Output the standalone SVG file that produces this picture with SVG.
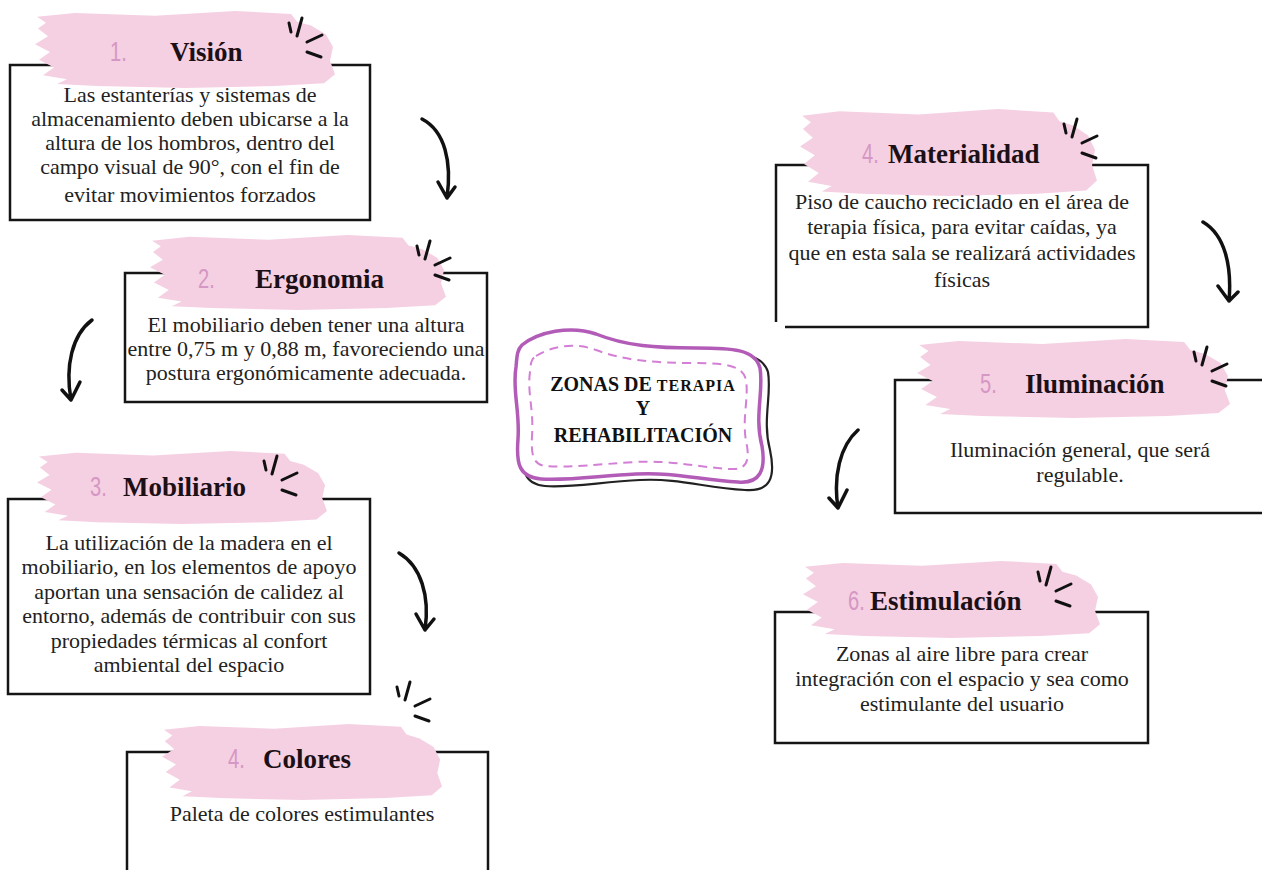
<svg xmlns="http://www.w3.org/2000/svg" xmlns:xlink="http://www.w3.org/1999/xlink" width="1262" height="870" viewBox="0 0 1262 870">
<style>
.frame{fill:none;stroke:#151515;stroke-width:2.5}
.brush{fill:#f5d0e2}
.num{font-family:"Liberation Sans",Arial,sans-serif;font-size:28px;fill:#d597c3}
.ttl{font-family:"Liberation Serif","Times New Roman",serif;font-size:27px;font-weight:bold;fill:#1c1016}
.body{font-family:"Liberation Serif","Times New Roman",serif;font-size:22px;fill:#222;text-anchor:middle}
.spark{fill:none;stroke:#111;stroke-width:3;stroke-linecap:round}
.arrow{fill:none;stroke:#111;stroke-width:3.5;stroke-linecap:round;stroke-linejoin:round}
.ctr{font-family:"Liberation Serif","Times New Roman",serif;font-weight:bold;fill:#111;text-anchor:middle}
</style>
<defs>
<symbol id="brush" viewBox="0 0 300 80" preserveAspectRatio="none">
<path class="brush" d="M2,7 L40,3 L120,6 L200,1 L256,4 L262,12 L276,16 L291,25 L298,38 L295,52 L300,66 L289,75 L240,78 L150,80 L62,78 L22,76 L32,71 L8,67 L19,59 L4,51 L15,43 L0,35 L13,27 L3,19 L11,13 Z"/>
</symbol>
<symbol id="spark" viewBox="0 0 36 42" overflow="visible">
<path class="spark" d="M1,6 L3,15 M14,1 L9,19 M19,25 L34,18 M19,35 L33,40"/>
</symbol>
</defs>
<rect width="1262" height="870" fill="#ffffff"/>

<g id="connectors">
<path class="arrow" d="M422,119 C445,131 452,162 447,198 M438,182 L447,198 L455,187"/>
<path class="arrow" d="M92,320 C72,335 65,366 71,400 M62,390 L71,400 L80,382"/>
<path class="arrow" d="M399,553 C421,566 430,596 425,630 M416,614 L425,630 L434,619"/>
<path class="arrow" d="M1203,222 C1225,235 1232,266 1229,301 M1218,286 L1229,301 L1238,292"/>
<path class="arrow" d="M858,430 C840,446 833,476 838,508 M829,498 L838,508 L847,490"/>
</g>

<g id="center">
<path d="M528,348 C545,335 575,328 600,338 C630,350 660,352 700,352 C735,352 762,352 768,372 C772,395 762,420 770,450 C776,478 770,492 745,490 C705,488 680,478 640,480 C600,482 570,488 545,486 C523,484 522,470 524,445 C526,415 518,395 522,372 C523,360 523,352 528,348 Z" fill="none" stroke="#222" stroke-width="2.2"/>
<path d="M522,345 C538,332 570,325 596,334 C626,346 656,348 696,348 C732,348 755,349 760,368 C764,391 754,416 762,446 C766,470 760,484 738,482 C700,480 674,472 636,474 C598,476 566,481 541,479 C519,477 516,464 518,439 C520,410 512,390 516,367 C517,356 517,350 522,345 Z" fill="#ffffff" stroke="#b25cb8" stroke-width="3.5"/>
<path d="M536,356 C552,346 574,342 596,350 C626,361 656,363 694,363 C724,363 743,365 746,380 C749,400 741,420 747,446 C750,464 744,470 730,469 C696,467 672,460 636,462 C600,464 570,468 546,466 C533,465 531,455 532,436 C534,410 527,392 530,372 C531,362 531,359 536,356 Z" fill="none" stroke="#d37fd6" stroke-width="2" stroke-dasharray="9 6"/>
<text class="ctr" x="643" y="391"><tspan font-size="20">ZONAS DE </tspan><tspan font-size="16" letter-spacing="1">TERAPIA</tspan></text>
<text class="ctr" x="643" y="415" font-size="20">Y</text>
<text class="ctr" x="643" y="442" font-size="20">REHABILITACIÓN</text>
</g>

<g id="n1">
<rect class="frame" x="10" y="65" width="360" height="155"/>
<use href="#brush" x="35" y="10" width="300" height="78"/>
<use href="#spark" x="288" y="17" width="36" height="42"/>
<text class="num" transform="translate(110,61) scale(0.72,1)">1.</text>
<text class="ttl" x="170" y="61">Visión</text>
<text class="body"><tspan x="190" y="102">Las estanterías y sistemas de</tspan><tspan x="190" y="126">almacenamiento deben ubicarse a la</tspan><tspan x="190" y="150">altura de los hombros, dentro del</tspan><tspan x="190" y="174">campo visual de 90°, con el fin de</tspan><tspan x="190" y="202">evitar movimientos forzados</tspan></text>
</g>

<g id="n2">
<rect class="frame" x="125" y="273" width="362" height="129"/>
<use href="#brush" x="150" y="234" width="296" height="76"/>
<use href="#spark" x="416" y="240" width="36" height="42"/>
<text class="num" transform="translate(198,288) scale(0.72,1)">2.</text>
<text class="ttl" x="255" y="288">Ergonomia</text>
<text class="body"><tspan x="306" y="332">El mobiliario deben tener una altura</tspan><tspan x="306" y="356">entre 0,75 m y 0,88 m, favoreciendo una</tspan><tspan x="306" y="380">postura ergonómicamente adecuada.</tspan></text>
</g>

<g id="n3">
<rect class="frame" x="8" y="499" width="362" height="195"/>
<use href="#brush" x="37" y="450" width="290" height="74"/>
<use href="#spark" x="263" y="455" width="36" height="42"/>
<text class="num" transform="translate(90,496) scale(0.72,1)">3.</text>
<text class="ttl" x="123" y="496">Mobiliario</text>
<text class="body"><tspan x="189" y="550">La utilización de la madera en el</tspan><tspan x="189" y="574">mobiliario, en los elementos de apoyo</tspan><tspan x="189" y="599">aportan una sensación de calidez al</tspan><tspan x="189" y="623">entorno, además de contribuir con sus</tspan><tspan x="189" y="648">propiedades térmicas al confort</tspan><tspan x="189" y="672">ambiental del espacio</tspan></text>
</g>

<g id="n4">
<path class="frame" d="M127,875 L127,752 L488,752 L488,875"/>
<use href="#brush" x="162" y="723" width="280" height="77"/>
<use href="#spark" x="396" y="681" width="36" height="42"/>
<text class="num" transform="translate(228,768) scale(0.72,1)">4.</text>
<text class="ttl" x="263" y="768">Colores</text>
<text class="body" x="302" y="821">Paleta de colores estimulantes</text>
</g>

<g id="n5">
<path class="frame" d="M776,322 L776,165 L1148,165 L1148,327 L785,327"/>
<use href="#brush" x="800" y="108" width="297" height="88"/>
<use href="#spark" x="1063" y="118" width="36" height="42"/>
<text class="num" transform="translate(862,163) scale(0.72,1)">4.</text>
<text class="ttl" x="888" y="163">Materialidad</text>
<text class="body"><tspan x="962" y="209">Piso de caucho reciclado en el área de</tspan><tspan x="962" y="234">terapia física, para evitar caídas, ya</tspan><tspan x="962" y="260">que en esta sala se realizará actividades</tspan><tspan x="962" y="287">físicas</tspan></text>
</g>

<g id="n6">
<path class="frame" d="M1265,380 L895,380 L895,513 L1265,513"/>
<use href="#brush" x="917" y="338" width="313" height="80"/>
<use href="#spark" x="1193" y="346" width="36" height="42"/>
<text class="num" transform="translate(980,393) scale(0.72,1)">5.</text>
<text class="ttl" x="1025" y="393">Iluminación</text>
<text class="body"><tspan x="1080" y="457">Iluminación general, que será</tspan><tspan x="1080" y="482">regulable.</tspan></text>
</g>

<g id="n7">
<rect class="frame" x="775" y="612" width="373" height="131"/>
<use href="#brush" x="803" y="560" width="297" height="78"/>
<use href="#spark" x="1037" y="566" width="36" height="42"/>
<text class="num" transform="translate(848,610) scale(0.72,1)">6.</text>
<text class="ttl" x="870" y="610">Estimulación</text>
<text class="body"><tspan x="962" y="661">Zonas al aire libre para crear</tspan><tspan x="962" y="686">integración con el espacio y sea como</tspan><tspan x="962" y="711">estimulante del usuario</tspan></text>
</g>
</svg>
